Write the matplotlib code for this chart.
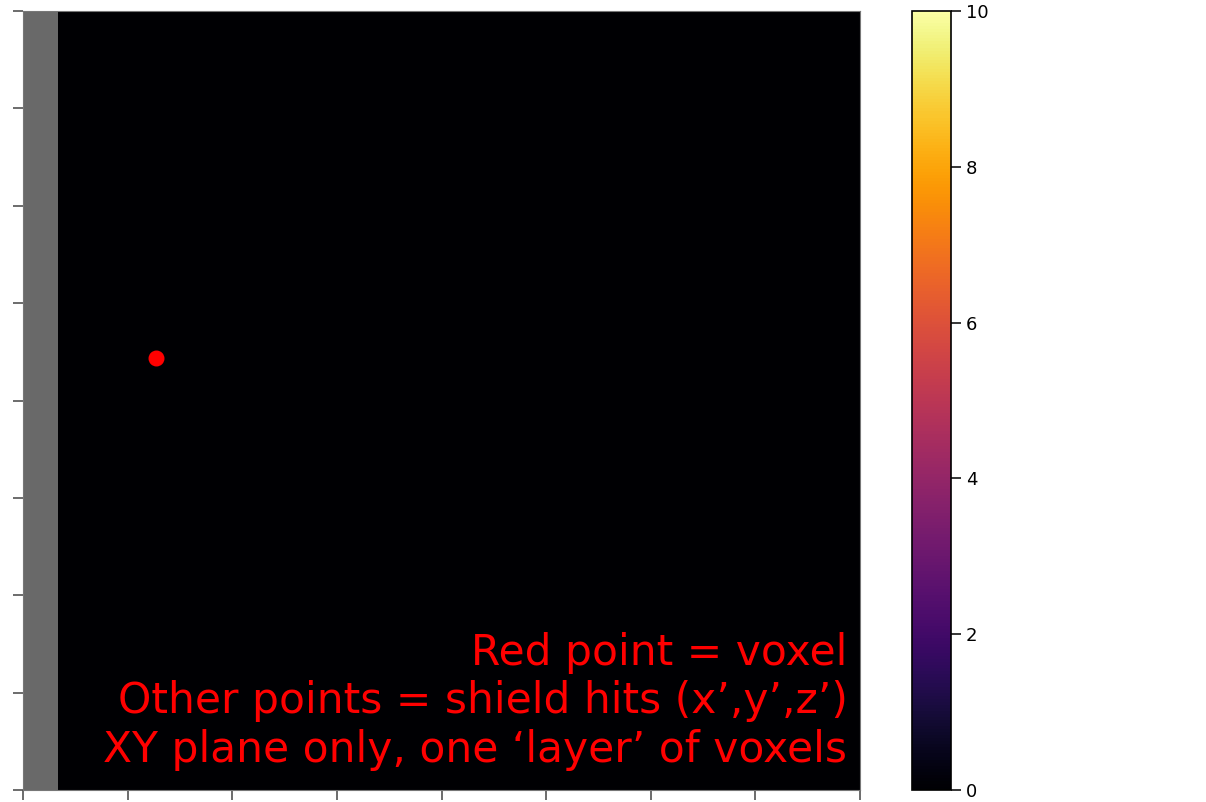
import numpy as np
import matplotlib
matplotlib.use('Agg')
import matplotlib.pyplot as plt

# grid of voxel counts in one XY layer (all empty), first column outside the shield
nx, ny = 24, 24
counts = np.zeros((ny, nx))
counts[:, 0] = np.nan

# the voxel position (data coords)
voxel_x = [3.3]
voxel_y = [12.8]

cbar_ticks = [0, 2, 4, 6, 8, 10]
note = 'Red point = voxel\nOther points = shield hits (x’,y’,z’)\nXY plane only, one ‘layer’ of voxels'

fig = plt.figure(figsize=(12.06, 8.02), dpi=100)
ax = fig.add_axes([23/1206, 12/802, 837/1206, 779/802])
cax = fig.add_axes([912/1206, 12/802, 39/1206, 779/802])

cmap = plt.get_cmap('inferno').copy()
cmap.set_bad('#696969')
im = ax.imshow(np.ma.masked_invalid(counts), cmap=cmap, vmin=0, vmax=10,
               origin='lower', extent=(-0.5, nx-0.5, -0.5, ny-0.5),
               aspect='auto', interpolation='nearest')
ax.scatter(voxel_x, voxel_y, s=110, color='red', zorder=3)

ax.set_xticks(np.linspace(-0.5, nx-0.5, 9))
ax.set_yticks(np.linspace(-0.5, ny-0.5, 9))
ax.set_xticklabels([])
ax.set_yticklabels([])
ax.tick_params(length=7, width=1.1, color='#444444')
for s in ax.spines.values():
    s.set_color('#777777')

ax.text(0.985, 0.025, note, transform=ax.transAxes, ha='right', va='bottom',
        multialignment='right', color='red', fontsize=30.5, linespacing=1.19)

cb = fig.colorbar(im, cax=cax, ticks=cbar_ticks)
cb.ax.tick_params(labelsize=13, length=7, width=1.1)
cb.outline.set_linewidth(1.2)

fig.savefig('out.png', dpi=100)
